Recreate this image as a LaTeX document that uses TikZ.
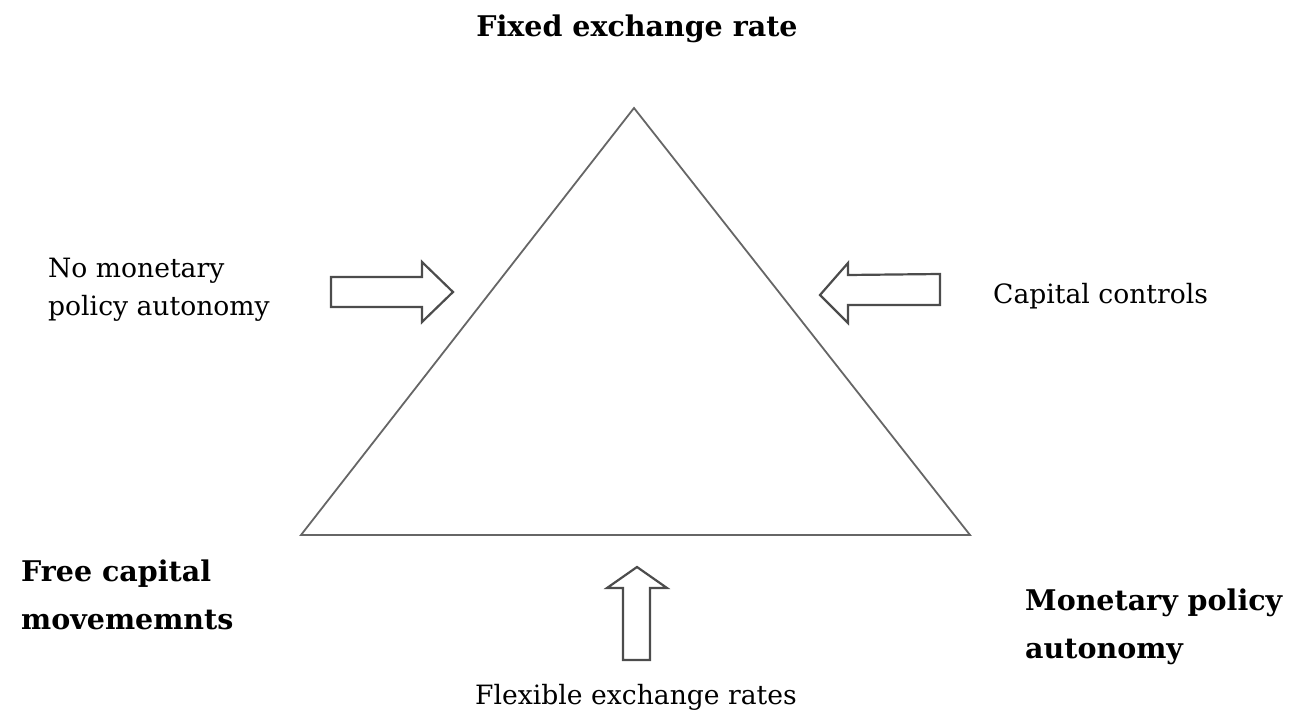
\documentclass[tikz,border=0pt]{standalone}
\usepackage{fontspec}
\setmainfont{DejaVu Serif}
\begin{document}
\begin{tikzpicture}[x=1pt,y=-1pt,
  tri/.style={draw=black!60, line width=1.8pt, line join=miter},
  blockarrow/.style={draw=black!70, line width=2.2pt, line join=miter, fill=white},
  lbl/.style={inner sep=0pt, font=\fontsize{26.6}{38}\selectfont, align=left},
  blbl/.style={inner sep=0pt, font=\fontsize{28.5}{48}\selectfont\bfseries, align=left}]
\useasboundingbox (0,0) rectangle (1294,711);
\coordinate (A) at (634,108);
\coordinate (B) at (301,535);
\coordinate (C) at (970,535);
\draw[tri] (A) -- (B) -- (C) -- cycle;
% left arrow
\draw[blockarrow] (331,277) -- (422,277) -- (422,262) -- (453,292) -- (422,322) -- (422,307) -- (331,307) -- cycle;
% right arrow
\draw[blockarrow] (940,274) -- (848,275) -- (848,263) -- (820,295) -- (848,323) -- (848,305) -- (940,305) -- cycle;
% up arrow
\draw[blockarrow] (623,660) -- (623,588) -- (607,588) -- (637,567) -- (667,588) -- (650,588) -- (650,660) -- cycle;
\node[blbl, anchor=base] (top) at (637,37) {Fixed exchange rate};
\node[lbl, anchor=north west] (nomp) at (48,258) {No monetary\\policy autonomy};
\node[lbl, anchor=west] (cc) at (993,296) {Capital controls};
\node[blbl, anchor=north west] (fcm) at (21,560) {Free capital\\movememnts};
\node[blbl, anchor=north west] (mpa) at (1025,589) {Monetary policy\\autonomy};
\node[lbl, anchor=base] (fer) at (636,704) {Flexible exchange rates};
\end{tikzpicture}
\end{document}
